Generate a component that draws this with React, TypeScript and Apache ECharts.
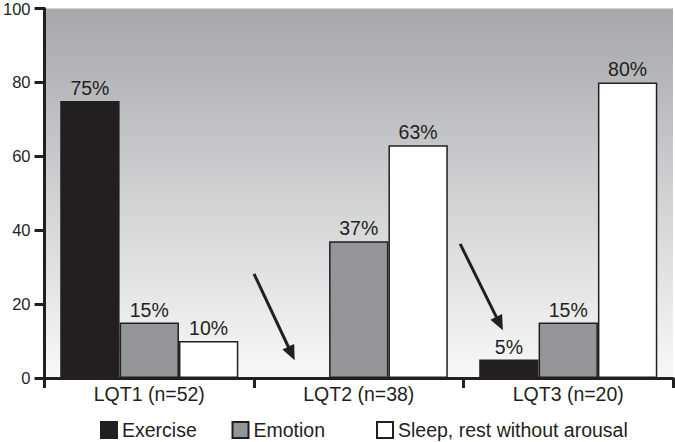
import React, { useEffect, useRef } from "react";
import * as echarts from "echarts";

const categories = ["LQT1 (n=52)", "LQT2 (n=38)", "LQT3 (n=20)"];
const exercise: (number | string)[] = [75, "-", 5];
const emotion = [15, 37, 15];
const sleep = [10, 63, 80];
const yTicks = { min: 0, max: 100, interval: 20 };
// arrows: [fromCategoryPos, fromValue, toCategoryPos, toValue]
const arrows = [
  [0.5, 28.2, 0.694, 4.8],
  [1.484, 36.3, 1.688, 12.9],
];

const INK = "#231f20";
const FONT = "'Liberation Sans', Arial, Helvetica, sans-serif";

export default function App() {
  const ref = useRef<HTMLDivElement>(null);
  useEffect(() => {
    if (!ref.current) return;
    const chart = echarts.init(ref.current, undefined, { renderer: "svg" });
    const barBase = {
      type: "bar" as const,
      barGap: "0%",
      barCategoryGap: "15%",
      label: {
        show: true,
        position: "top" as const,
        distance: 3,
        formatter: "{c}%",
        fontSize: 19.5,
        color: INK,
        fontFamily: FONT,
      },
    };
    const mkLegend = (name: string, left: number) => ({
      data: [name],
      left,
      top: 420,
      padding: 0,
      icon: "rect",
      itemWidth: 16,
      itemHeight: 16,
      itemGap: 5,
      textStyle: { fontSize: 19.5, color: INK, fontFamily: FONT, padding: [0, 0, 0, 0] },
    });
    chart.setOption({
      animation: false,
      textStyle: { fontFamily: FONT },
      grid: {
        left: 42,
        right: 2,
        top: 7,
        bottom: 64,
        show: true,
        borderWidth: 0,
        backgroundColor: new echarts.graphic.LinearGradient(0, 0, 0, 1, [
          { offset: 0, color: "#a5a7aa" },
          { offset: 0.5, color: "#d0d1d3" },
          { offset: 1, color: "#f8f8f8" },
        ]),
      },
      legend: [
        mkLegend("Exercise", 100),
        mkLegend("Emotion", 231.5),
        mkLegend("Sleep, rest without arousal", 376),
      ],
      xAxis: {
        type: "category",
        data: categories,
        axisLine: { lineStyle: { color: INK, width: 3 } },
        axisTick: { show: true, length: 10, lineStyle: { color: INK, width: 3 } },
        axisLabel: { fontSize: 19.5, color: INK, margin: 6, fontFamily: FONT },
      },
      yAxis: {
        type: "value",
        min: yTicks.min,
        max: yTicks.max,
        interval: yTicks.interval,
        splitLine: { show: false },
        axisLine: { show: true, lineStyle: { color: INK, width: 3 } },
        axisTick: { show: true, length: 10, lineStyle: { color: INK, width: 3 } },
        axisLabel: { fontSize: 16.5, color: INK, margin: 14, fontFamily: FONT },
      },
      series: [
        {
          ...barBase,
          name: "Exercise",
          data: exercise,
          itemStyle: { color: INK, borderColor: INK, borderWidth: 1.5 },
        },
        {
          ...barBase,
          name: "Emotion",
          data: emotion,
          itemStyle: { color: "#939598", borderColor: INK, borderWidth: 1.5 },
        },
        {
          ...barBase,
          name: "Sleep, rest without arousal",
          data: sleep,
          itemStyle: { color: "#ffffff", borderColor: INK, borderWidth: 1.5 },
        },
      ],
    });

    const c0 = chart.convertToPixel({ xAxisIndex: 0 }, 0) as number;
    const c1 = chart.convertToPixel({ xAxisIndex: 0 }, 1) as number;
    const band = c1 - c0;
    const px = (pos: number) => c0 + pos * band;
    const py = (v: number) => chart.convertToPixel({ yAxisIndex: 0 }, v) as number;
    const graphics: any[] = [];
    arrows.forEach(([fx, fy, tx, ty]) => {
      const x1 = px(fx), y1 = py(fy), x2 = px(tx), y2 = py(ty);
      const dx = x2 - x1, dy = y2 - y1;
      const len = Math.sqrt(dx * dx + dy * dy);
      const ux = dx / len, uy = dy / len;
      const headL = 15, headW = 6.5;
      const bx = x2 - ux * headL, by = y2 - uy * headL;
      graphics.push({
        type: "line",
        shape: { x1, y1, x2: bx + ux * 2, y2: by + uy * 2 },
        style: { stroke: INK, lineWidth: 3 },
        z: 100,
      });
      graphics.push({
        type: "polygon",
        shape: {
          points: [
            [x2, y2],
            [bx - uy * headW, by + ux * headW],
            [bx + uy * headW, by - ux * headW],
          ],
        },
        style: { fill: INK },
        z: 100,
      });
    });
    chart.setOption({ graphic: graphics });

    return () => chart.dispose();
  }, []);
  return (
    <div
      ref={ref}
      style={{ position: "fixed", left: 0, top: 0, width: 675, height: 442, background: "#fff" }}
    />
  );
}
